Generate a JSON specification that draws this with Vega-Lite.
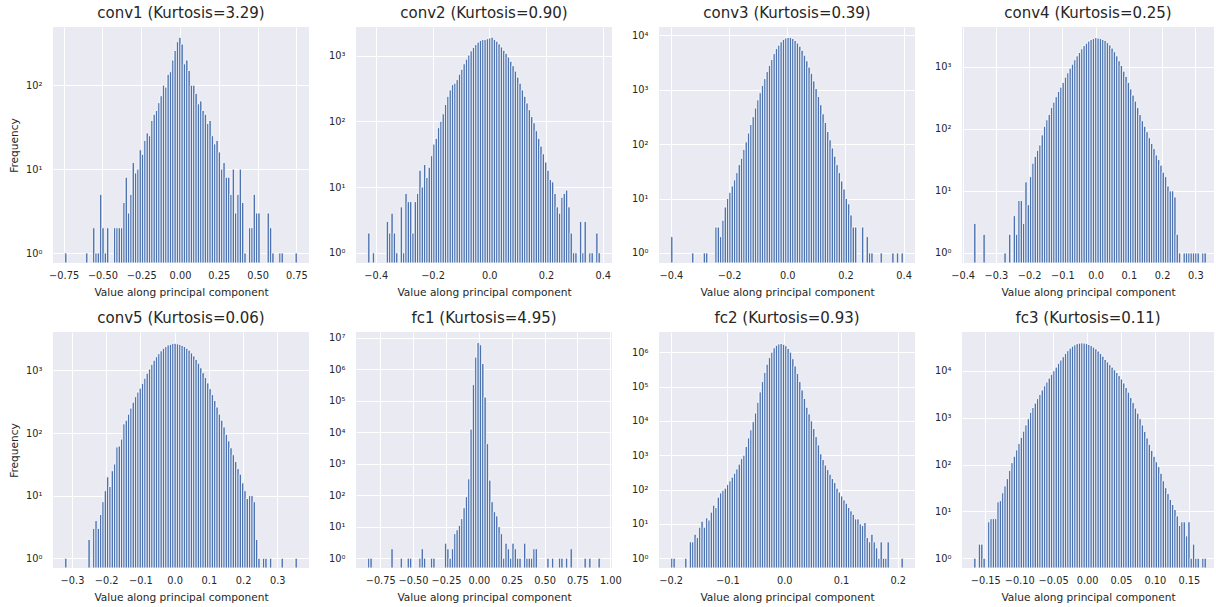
{
"$schema": "https://vega.github.io/schema/vega-lite/v6.json",
"background": "white",
"padding": {"left": 9, "top": 6, "right": 0, "bottom": 0},
"autosize": {"type": "pad"},
"bounds": "flush",
"columns": 4,
"spacing": {"row": 69, "column": 47},
"datasets": {
"conv1": [{"x":-0.736,"n":1},{"x":-0.601,"n":1},{"x":-0.556,"n":2},{"x":-0.541,"n":1},{"x":-0.526,"n":1},{"x":-0.511,"n":5},{"x":-0.496,"n":2},{"x":-0.481,"n":1},{"x":-0.466,"n":2},{"x":-0.421,"n":2},{"x":-0.406,"n":2},{"x":-0.391,"n":2},{"x":-0.376,"n":2},{"x":-0.361,"n":4},{"x":-0.346,"n":8},{"x":-0.331,"n":3},{"x":-0.316,"n":5},{"x":-0.301,"n":12},{"x":-0.286,"n":9},{"x":-0.271,"n":10},{"x":-0.256,"n":17},{"x":-0.241,"n":15},{"x":-0.226,"n":22},{"x":-0.211,"n":27},{"x":-0.196,"n":25},{"x":-0.181,"n":38},{"x":-0.166,"n":45},{"x":-0.151,"n":50},{"x":-0.136,"n":62},{"x":-0.121,"n":75},{"x":-0.106,"n":100},{"x":-0.091,"n":95},{"x":-0.076,"n":135},{"x":-0.061,"n":145},{"x":-0.046,"n":200},{"x":-0.031,"n":260},{"x":-0.016,"n":330},{"x":-0.001,"n":372},{"x":0.014,"n":310},{"x":0.029,"n":180},{"x":0.044,"n":200},{"x":0.059,"n":150},{"x":0.074,"n":100},{"x":0.089,"n":100},{"x":0.104,"n":80},{"x":0.119,"n":60},{"x":0.134,"n":65},{"x":0.149,"n":50},{"x":0.164,"n":45},{"x":0.179,"n":35},{"x":0.194,"n":38},{"x":0.209,"n":25},{"x":0.224,"n":20},{"x":0.239,"n":22},{"x":0.254,"n":16},{"x":0.269,"n":10},{"x":0.284,"n":12},{"x":0.299,"n":8},{"x":0.314,"n":8},{"x":0.329,"n":5},{"x":0.344,"n":10},{"x":0.359,"n":3},{"x":0.374,"n":5},{"x":0.389,"n":10},{"x":0.404,"n":4},{"x":0.419,"n":1},{"x":0.449,"n":2},{"x":0.464,"n":2},{"x":0.479,"n":5},{"x":0.494,"n":3},{"x":0.509,"n":3},{"x":0.569,"n":3},{"x":0.584,"n":2},{"x":0.599,"n":1},{"x":0.644,"n":1},{"x":0.659,"n":1},{"x":0.749,"n":1}],
"conv2": [{"x":-0.4245,"n":2},{"x":-0.4081,"n":1},{"x":-0.3589,"n":3},{"x":-0.3507,"n":2},{"x":-0.3425,"n":4},{"x":-0.3343,"n":2},{"x":-0.3261,"n":1},{"x":-0.3097,"n":5},{"x":-0.3015,"n":1},{"x":-0.2933,"n":8},{"x":-0.2851,"n":6},{"x":-0.2769,"n":6},{"x":-0.2687,"n":2},{"x":-0.2605,"n":6},{"x":-0.2523,"n":8},{"x":-0.2441,"n":18},{"x":-0.2359,"n":10},{"x":-0.2277,"n":22},{"x":-0.2195,"n":14},{"x":-0.2113,"n":20},{"x":-0.2031,"n":30},{"x":-0.1949,"n":45},{"x":-0.1867,"n":55},{"x":-0.1785,"n":80},{"x":-0.1703,"n":100},{"x":-0.1621,"n":130},{"x":-0.1539,"n":180},{"x":-0.1457,"n":240},{"x":-0.1375,"n":300},{"x":-0.1293,"n":360},{"x":-0.1211,"n":380},{"x":-0.1129,"n":430},{"x":-0.1047,"n":520},{"x":-0.0965,"n":620},{"x":-0.0883,"n":750},{"x":-0.0801,"n":880},{"x":-0.0719,"n":1020},{"x":-0.0637,"n":1180},{"x":-0.0555,"n":1330},{"x":-0.0473,"n":1470},{"x":-0.0391,"n":1600},{"x":-0.0309,"n":1700},{"x":-0.0227,"n":1750},{"x":-0.0145,"n":1750},{"x":-0.0063,"n":1800},{"x":0.0019,"n":1850},{"x":0.0101,"n":1900},{"x":0.0183,"n":1750},{"x":0.0265,"n":1650},{"x":0.0347,"n":1500},{"x":0.0429,"n":1350},{"x":0.0511,"n":1200},{"x":0.0593,"n":1080},{"x":0.0675,"n":950},{"x":0.0757,"n":820},{"x":0.0839,"n":700},{"x":0.0921,"n":580},{"x":0.1003,"n":470},{"x":0.1085,"n":380},{"x":0.1167,"n":300},{"x":0.1249,"n":240},{"x":0.1331,"n":190},{"x":0.1413,"n":150},{"x":0.1495,"n":118},{"x":0.1577,"n":95},{"x":0.1659,"n":72},{"x":0.1741,"n":55},{"x":0.1823,"n":42},{"x":0.1905,"n":32},{"x":0.1987,"n":24},{"x":0.2069,"n":18},{"x":0.2151,"n":13},{"x":0.2233,"n":12},{"x":0.2315,"n":8},{"x":0.2397,"n":5},{"x":0.2479,"n":4},{"x":0.2561,"n":7},{"x":0.2643,"n":8},{"x":0.2725,"n":9},{"x":0.2807,"n":5},{"x":0.2889,"n":2},{"x":0.2971,"n":1},{"x":0.3053,"n":1},{"x":0.3217,"n":3},{"x":0.3299,"n":1},{"x":0.3381,"n":3},{"x":0.3545,"n":1},{"x":0.3627,"n":1},{"x":0.3791,"n":2},{"x":0.3873,"n":1}],
"conv3": [{"x":-0.397,"n":2},{"x":-0.325,"n":1},{"x":-0.285,"n":1},{"x":-0.277,"n":1},{"x":-0.245,"n":3},{"x":-0.237,"n":3},{"x":-0.229,"n":2},{"x":-0.221,"n":4},{"x":-0.213,"n":7},{"x":-0.205,"n":10},{"x":-0.197,"n":13},{"x":-0.189,"n":17},{"x":-0.181,"n":22},{"x":-0.173,"n":30},{"x":-0.165,"n":42},{"x":-0.157,"n":55},{"x":-0.149,"n":80},{"x":-0.141,"n":110},{"x":-0.133,"n":160},{"x":-0.125,"n":230},{"x":-0.117,"n":320},{"x":-0.109,"n":460},{"x":-0.101,"n":650},{"x":-0.093,"n":880},{"x":-0.085,"n":1200},{"x":-0.077,"n":1600},{"x":-0.069,"n":2150},{"x":-0.061,"n":2800},{"x":-0.053,"n":3600},{"x":-0.045,"n":4600},{"x":-0.037,"n":5700},{"x":-0.029,"n":6600},{"x":-0.021,"n":7600},{"x":-0.013,"n":8400},{"x":-0.005,"n":8900},{"x":0.003,"n":9100},{"x":0.011,"n":9100},{"x":0.019,"n":8700},{"x":0.027,"n":8000},{"x":0.035,"n":7200},{"x":0.043,"n":6300},{"x":0.051,"n":5300},{"x":0.059,"n":4300},{"x":0.067,"n":3400},{"x":0.075,"n":2600},{"x":0.083,"n":2000},{"x":0.091,"n":1450},{"x":0.099,"n":1050},{"x":0.107,"n":750},{"x":0.115,"n":530},{"x":0.123,"n":360},{"x":0.131,"n":250},{"x":0.139,"n":170},{"x":0.147,"n":120},{"x":0.155,"n":85},{"x":0.163,"n":60},{"x":0.171,"n":42},{"x":0.179,"n":30},{"x":0.187,"n":21},{"x":0.195,"n":15},{"x":0.203,"n":10},{"x":0.211,"n":8},{"x":0.219,"n":5},{"x":0.227,"n":3},{"x":0.235,"n":3},{"x":0.259,"n":3},{"x":0.275,"n":2},{"x":0.283,"n":1},{"x":0.291,"n":1},{"x":0.323,"n":1},{"x":0.363,"n":1},{"x":0.379,"n":1},{"x":0.395,"n":1}],
"conv4": [{"x":-0.3635,"n":3},{"x":-0.3355,"n":2},{"x":-0.2725,"n":1},{"x":-0.2585,"n":2},{"x":-0.2445,"n":4},{"x":-0.2375,"n":2},{"x":-0.2305,"n":7},{"x":-0.2235,"n":7},{"x":-0.2165,"n":3},{"x":-0.2095,"n":14},{"x":-0.2025,"n":6},{"x":-0.1955,"n":17},{"x":-0.1885,"n":28},{"x":-0.1815,"n":36},{"x":-0.1745,"n":45},{"x":-0.1675,"n":55},{"x":-0.1605,"n":80},{"x":-0.1535,"n":110},{"x":-0.1465,"n":140},{"x":-0.1395,"n":170},{"x":-0.1325,"n":220},{"x":-0.1255,"n":270},{"x":-0.1185,"n":330},{"x":-0.1115,"n":400},{"x":-0.1045,"n":470},{"x":-0.0975,"n":560},{"x":-0.0905,"n":680},{"x":-0.0835,"n":800},{"x":-0.0765,"n":950},{"x":-0.0695,"n":1100},{"x":-0.0625,"n":1300},{"x":-0.0555,"n":1500},{"x":-0.0485,"n":1700},{"x":-0.0415,"n":1950},{"x":-0.0345,"n":2200},{"x":-0.0275,"n":2400},{"x":-0.0205,"n":2600},{"x":-0.0135,"n":2750},{"x":-0.0065,"n":2850},{"x":0.0005,"n":2950},{"x":0.0075,"n":2900},{"x":0.0145,"n":2850},{"x":0.0215,"n":2750},{"x":0.0285,"n":2650},{"x":0.0355,"n":2450},{"x":0.0425,"n":2250},{"x":0.0495,"n":2000},{"x":0.0565,"n":1750},{"x":0.0635,"n":1500},{"x":0.0705,"n":1250},{"x":0.0775,"n":1050},{"x":0.0845,"n":850},{"x":0.0915,"n":700},{"x":0.0985,"n":560},{"x":0.1055,"n":440},{"x":0.1125,"n":350},{"x":0.1195,"n":280},{"x":0.1265,"n":220},{"x":0.1335,"n":170},{"x":0.1405,"n":135},{"x":0.1475,"n":110},{"x":0.1545,"n":90},{"x":0.1615,"n":72},{"x":0.1685,"n":58},{"x":0.1755,"n":48},{"x":0.1825,"n":38},{"x":0.1895,"n":32},{"x":0.1965,"n":26},{"x":0.2035,"n":20},{"x":0.2105,"n":17},{"x":0.2175,"n":12},{"x":0.2245,"n":10},{"x":0.2315,"n":10},{"x":0.2385,"n":8},{"x":0.2455,"n":2},{"x":0.2525,"n":1},{"x":0.2665,"n":1},{"x":0.2735,"n":1},{"x":0.2805,"n":1},{"x":0.2875,"n":1},{"x":0.2945,"n":1},{"x":0.3015,"n":1},{"x":0.3085,"n":1},{"x":0.3225,"n":1},{"x":0.3295,"n":1}],
"conv5": [{"x":-0.318,"n":1},{"x":-0.25,"n":2},{"x":-0.2364,"n":3},{"x":-0.2296,"n":4},{"x":-0.2228,"n":3},{"x":-0.216,"n":5},{"x":-0.2092,"n":8},{"x":-0.2024,"n":12},{"x":-0.1956,"n":20},{"x":-0.1888,"n":14},{"x":-0.182,"n":25},{"x":-0.1752,"n":32},{"x":-0.1684,"n":60},{"x":-0.1616,"n":62},{"x":-0.1548,"n":80},{"x":-0.148,"n":140},{"x":-0.1412,"n":160},{"x":-0.1344,"n":200},{"x":-0.1276,"n":250},{"x":-0.1208,"n":310},{"x":-0.114,"n":380},{"x":-0.1072,"n":450},{"x":-0.1004,"n":520},{"x":-0.0936,"n":620},{"x":-0.0868,"n":750},{"x":-0.08,"n":900},{"x":-0.0732,"n":1050},{"x":-0.0664,"n":1250},{"x":-0.0596,"n":1450},{"x":-0.0528,"n":1650},{"x":-0.046,"n":1850},{"x":-0.0392,"n":2050},{"x":-0.0324,"n":2250},{"x":-0.0256,"n":2400},{"x":-0.0188,"n":2550},{"x":-0.012,"n":2600},{"x":-0.0052,"n":2700},{"x":0.0016,"n":2700},{"x":0.0084,"n":2650},{"x":0.0152,"n":2600},{"x":0.022,"n":2500},{"x":0.0288,"n":2400},{"x":0.0356,"n":2250},{"x":0.0424,"n":2100},{"x":0.0492,"n":1900},{"x":0.056,"n":1700},{"x":0.0628,"n":1500},{"x":0.0696,"n":1300},{"x":0.0764,"n":1100},{"x":0.0832,"n":920},{"x":0.09,"n":770},{"x":0.0968,"n":630},{"x":0.1036,"n":510},{"x":0.1104,"n":410},{"x":0.1172,"n":330},{"x":0.124,"n":260},{"x":0.1308,"n":200},{"x":0.1376,"n":160},{"x":0.1444,"n":125},{"x":0.1512,"n":95},{"x":0.158,"n":75},{"x":0.1648,"n":58},{"x":0.1716,"n":45},{"x":0.1784,"n":35},{"x":0.1852,"n":27},{"x":0.192,"n":22},{"x":0.1988,"n":16},{"x":0.2056,"n":12},{"x":0.2124,"n":9},{"x":0.2192,"n":10},{"x":0.226,"n":10},{"x":0.2328,"n":8},{"x":0.2396,"n":2},{"x":0.2464,"n":1},{"x":0.26,"n":1},{"x":0.2668,"n":1},{"x":0.2804,"n":1},{"x":0.3144,"n":1},{"x":0.3552,"n":1}],
"fc1": [{"x":-0.837,"n":1},{"x":-0.8193,"n":1},{"x":-0.66,"n":2},{"x":-0.5892,"n":1},{"x":-0.5361,"n":1},{"x":-0.5184,"n":1},{"x":-0.4476,"n":1},{"x":-0.4299,"n":2},{"x":-0.4122,"n":1},{"x":-0.3591,"n":1},{"x":-0.3414,"n":1},{"x":-0.2529,"n":3},{"x":-0.2352,"n":2},{"x":-0.2175,"n":1},{"x":-0.1998,"n":2},{"x":-0.1821,"n":6},{"x":-0.1644,"n":8},{"x":-0.1467,"n":11},{"x":-0.129,"n":18},{"x":-0.1113,"n":40},{"x":-0.0936,"n":90},{"x":-0.0759,"n":330},{"x":-0.0582,"n":12500},{"x":-0.0405,"n":320000},{"x":-0.0228,"n":2400000},{"x":-0.0051,"n":6900000},{"x":0.0126,"n":5900000},{"x":0.0303,"n":1500000},{"x":0.048,"n":130000},{"x":0.0657,"n":4300},{"x":0.0834,"n":300},{"x":0.1011,"n":62},{"x":0.1188,"n":30},{"x":0.1365,"n":22},{"x":0.1542,"n":10},{"x":0.1719,"n":6},{"x":0.1896,"n":1},{"x":0.2073,"n":3},{"x":0.225,"n":2},{"x":0.2427,"n":1},{"x":0.2604,"n":3},{"x":0.2781,"n":2},{"x":0.2958,"n":1},{"x":0.3135,"n":1},{"x":0.3489,"n":3},{"x":0.3666,"n":1},{"x":0.3843,"n":1},{"x":0.402,"n":1},{"x":0.4197,"n":2},{"x":0.4374,"n":2},{"x":0.5259,"n":1},{"x":0.5613,"n":1},{"x":0.6144,"n":1},{"x":0.6321,"n":1},{"x":0.6675,"n":1},{"x":0.7029,"n":2},{"x":0.8091,"n":1},{"x":0.8445,"n":1},{"x":0.9153,"n":1}],
"fc2": [{"x":-0.198,"n":1},{"x":-0.1939,"n":1},{"x":-0.1734,"n":1},{"x":-0.1652,"n":3},{"x":-0.1611,"n":3},{"x":-0.157,"n":5},{"x":-0.1529,"n":4},{"x":-0.1488,"n":8},{"x":-0.1447,"n":12},{"x":-0.1406,"n":8},{"x":-0.1365,"n":15},{"x":-0.1324,"n":13},{"x":-0.1283,"n":22},{"x":-0.1242,"n":35},{"x":-0.1201,"n":30},{"x":-0.116,"n":60},{"x":-0.1119,"n":80},{"x":-0.1078,"n":95},{"x":-0.1037,"n":110},{"x":-0.0996,"n":140},{"x":-0.0955,"n":180},{"x":-0.0914,"n":230},{"x":-0.0873,"n":300},{"x":-0.0832,"n":400},{"x":-0.0791,"n":550},{"x":-0.075,"n":800},{"x":-0.0709,"n":1000},{"x":-0.0668,"n":1800},{"x":-0.0627,"n":3200},{"x":-0.0586,"n":5500},{"x":-0.0545,"n":9500},{"x":-0.0504,"n":17000},{"x":-0.0463,"n":35000},{"x":-0.0422,"n":70000},{"x":-0.0381,"n":140000},{"x":-0.034,"n":260000},{"x":-0.0299,"n":450000},{"x":-0.0258,"n":700000},{"x":-0.0217,"n":1000000},{"x":-0.0176,"n":1350000},{"x":-0.0135,"n":1600000},{"x":-0.0094,"n":1750000},{"x":-0.0053,"n":1800000},{"x":-0.0012,"n":1700000},{"x":0.0029,"n":1550000},{"x":0.007,"n":1300000},{"x":0.0111,"n":1000000},{"x":0.0152,"n":650000},{"x":0.0193,"n":400000},{"x":0.0234,"n":240000},{"x":0.0275,"n":140000},{"x":0.0316,"n":80000},{"x":0.0357,"n":45000},{"x":0.0398,"n":25000},{"x":0.0439,"n":16000},{"x":0.048,"n":10000},{"x":0.0521,"n":6000},{"x":0.0562,"n":3500},{"x":0.0603,"n":2000},{"x":0.0644,"n":1100},{"x":0.0685,"n":750},{"x":0.0726,"n":520},{"x":0.0767,"n":380},{"x":0.0808,"n":280},{"x":0.0849,"n":210},{"x":0.089,"n":160},{"x":0.0931,"n":110},{"x":0.0972,"n":85},{"x":0.1013,"n":65},{"x":0.1054,"n":50},{"x":0.1095,"n":40},{"x":0.1136,"n":30},{"x":0.1177,"n":24},{"x":0.1218,"n":19},{"x":0.1259,"n":14},{"x":0.13,"n":14},{"x":0.1341,"n":10},{"x":0.1382,"n":9},{"x":0.1423,"n":11},{"x":0.1464,"n":4},{"x":0.1505,"n":3},{"x":0.1546,"n":5},{"x":0.1587,"n":3},{"x":0.1628,"n":2},{"x":0.1669,"n":1},{"x":0.171,"n":3},{"x":0.1751,"n":1},{"x":0.1792,"n":1},{"x":0.1833,"n":3},{"x":0.2079,"n":1}],
"fc3": [{"x":-0.1654,"n":1},{"x":-0.1585,"n":2},{"x":-0.1551,"n":2},{"x":-0.1517,"n":1},{"x":-0.1448,"n":6},{"x":-0.1414,"n":7},{"x":-0.138,"n":7},{"x":-0.1345,"n":7},{"x":-0.1311,"n":16},{"x":-0.1277,"n":17},{"x":-0.1242,"n":25},{"x":-0.1208,"n":35},{"x":-0.1174,"n":50},{"x":-0.1139,"n":75},{"x":-0.1105,"n":110},{"x":-0.1071,"n":150},{"x":-0.1037,"n":205},{"x":-0.1002,"n":280},{"x":-0.0968,"n":380},{"x":-0.0934,"n":515},{"x":-0.0899,"n":700},{"x":-0.0865,"n":950},{"x":-0.0831,"n":1300},{"x":-0.0796,"n":1650},{"x":-0.0762,"n":2050},{"x":-0.0728,"n":2550},{"x":-0.0694,"n":3150},{"x":-0.0659,"n":3900},{"x":-0.0625,"n":4800},{"x":-0.0591,"n":5800},{"x":-0.0556,"n":7000},{"x":-0.0522,"n":8400},{"x":-0.0488,"n":10000},{"x":-0.0453,"n":12000},{"x":-0.0419,"n":14500},{"x":-0.0385,"n":17000},{"x":-0.0351,"n":20000},{"x":-0.0316,"n":23500},{"x":-0.0282,"n":27000},{"x":-0.0248,"n":30500},{"x":-0.0213,"n":33500},{"x":-0.0179,"n":36000},{"x":-0.0145,"n":38000},{"x":-0.011,"n":39000},{"x":-0.0076,"n":39500},{"x":-0.0042,"n":39000},{"x":-0.0008,"n":38000},{"x":0.0027,"n":36500},{"x":0.0061,"n":34500},{"x":0.0095,"n":32000},{"x":0.013,"n":29500},{"x":0.0164,"n":26500},{"x":0.0198,"n":23500},{"x":0.0233,"n":20500},{"x":0.0267,"n":17500},{"x":0.0301,"n":15500},{"x":0.0335,"n":13500},{"x":0.037,"n":12000},{"x":0.0404,"n":10500},{"x":0.0438,"n":9200},{"x":0.0473,"n":7900},{"x":0.0507,"n":6700},{"x":0.0541,"n":5500},{"x":0.0576,"n":4400},{"x":0.061,"n":3500},{"x":0.0644,"n":2700},{"x":0.0678,"n":2100},{"x":0.0713,"n":1600},{"x":0.0747,"n":1250},{"x":0.0781,"n":950},{"x":0.0816,"n":700},{"x":0.085,"n":510},{"x":0.0884,"n":370},{"x":0.0919,"n":270},{"x":0.0953,"n":200},{"x":0.0987,"n":150},{"x":0.1021,"n":115},{"x":0.1056,"n":90},{"x":0.109,"n":65},{"x":0.1124,"n":45},{"x":0.1159,"n":32},{"x":0.1193,"n":24},{"x":0.1227,"n":18},{"x":0.1262,"n":14},{"x":0.1296,"n":11},{"x":0.133,"n":8},{"x":0.1364,"n":5},{"x":0.1399,"n":6},{"x":0.1433,"n":6},{"x":0.1467,"n":3},{"x":0.1502,"n":6},{"x":0.1536,"n":1},{"x":0.157,"n":2},{"x":0.1605,"n":1},{"x":0.1639,"n":1},{"x":0.1707,"n":1},{"x":0.1742,"n":1}]
},
"concat": [
{"data":{"name":"conv1"},"transform":[{"bin":{"extent":[-0.7435,0.7565],"step":0.015,"nice":false},"field":"x","as":["b0","b1"]}],"width":256,"height":236,"title":"conv1 (Kurtosis=3.29)","mark":{"type":"bar","fill":"#4C72B0","stroke":"#FFFFFF","strokeWidth":0.8},
"encoding":{"x":{"field":"b0","type":"quantitative","scale":{"domain":[-0.8185,0.8315],"nice":false,"zero":false},"axis":{"values":[-0.75,-0.5,-0.25,0,0.25,0.5,0.75],"format":".2f","title":"Value along principal component"}},"x2":{"field":"b1"},
"y":{"field":"n","type":"quantitative","scale":{"type":"log","domain":[0.76,495],"nice":false,"clamp":true},"axis":{"values":[1,10,100],"labelExpr":"datum.value == 1 ? '10⁰' : datum.value == 10 ? '10¹' : datum.value == 100 ? '10²' : datum.value == 1000 ? '10³' : datum.value == 10000 ? '10⁴' : datum.value == 100000 ? '10⁵' : datum.value == 1000000 ? '10⁶' : '10⁷'","title":"Frequency"}},"y2":{"datum":0.01}}},
{"data":{"name":"conv2"},"transform":[{"bin":{"extent":[-0.4286,0.3914],"step":0.0082,"nice":false},"field":"x","as":["b0","b1"]}],"width":256,"height":236,"title":"conv2 (Kurtosis=0.90)","mark":{"type":"bar","fill":"#4C72B0","stroke":"#FFFFFF","strokeWidth":0.8},
"encoding":{"x":{"field":"b0","type":"quantitative","scale":{"domain":[-0.4696,0.4324],"nice":false,"zero":false},"axis":{"values":[-0.4,-0.2,0,0.2,0.4],"format":".1f","title":"Value along principal component"}},"x2":{"field":"b1"},
"y":{"field":"n","type":"quantitative","scale":{"type":"log","domain":[0.7,2720],"nice":false,"clamp":true},"axis":{"values":[1,10,100,1000],"labelExpr":"datum.value == 1 ? '10⁰' : datum.value == 10 ? '10¹' : datum.value == 100 ? '10²' : datum.value == 1000 ? '10³' : datum.value == 10000 ? '10⁴' : datum.value == 100000 ? '10⁵' : datum.value == 1000000 ? '10⁶' : '10⁷'","title":null}},"y2":{"datum":0.01}}},
{"data":{"name":"conv3"},"transform":[{"bin":{"extent":[-0.401,0.399],"step":0.008,"nice":false},"field":"x","as":["b0","b1"]}],"width":256,"height":236,"title":"conv3 (Kurtosis=0.39)","mark":{"type":"bar","fill":"#4C72B0","stroke":"#FFFFFF","strokeWidth":0.8},
"encoding":{"x":{"field":"b0","type":"quantitative","scale":{"domain":[-0.441,0.439],"nice":false,"zero":false},"axis":{"values":[-0.4,-0.2,0,0.2,0.4],"format":".1f","title":"Value along principal component"}},"x2":{"field":"b1"},
"y":{"field":"n","type":"quantitative","scale":{"type":"log","domain":[0.655,14200],"nice":false,"clamp":true},"axis":{"values":[1,10,100,1000,10000],"labelExpr":"datum.value == 1 ? '10⁰' : datum.value == 10 ? '10¹' : datum.value == 100 ? '10²' : datum.value == 1000 ? '10³' : datum.value == 10000 ? '10⁴' : datum.value == 100000 ? '10⁵' : datum.value == 1000000 ? '10⁶' : '10⁷'","title":null}},"y2":{"datum":0.01}}},
{"data":{"name":"conv4"},"transform":[{"bin":{"extent":[-0.367,0.333],"step":0.007,"nice":false},"field":"x","as":["b0","b1"]}],"width":252,"height":236,"title":"conv4 (Kurtosis=0.25)","mark":{"type":"bar","fill":"#4C72B0","stroke":"#FFFFFF","strokeWidth":0.8},
"encoding":{"x":{"field":"b0","type":"quantitative","scale":{"domain":[-0.402,0.356],"nice":false,"zero":false},"axis":{"values":[-0.4,-0.3,-0.2,-0.1,0,0.1,0.2,0.3],"format":".1f","title":"Value along principal component"}},"x2":{"field":"b1"},
"y":{"field":"n","type":"quantitative","scale":{"type":"log","domain":[0.69,4380],"nice":false,"clamp":true},"axis":{"values":[1,10,100,1000],"labelExpr":"datum.value == 1 ? '10⁰' : datum.value == 10 ? '10¹' : datum.value == 100 ? '10²' : datum.value == 1000 ? '10³' : datum.value == 10000 ? '10⁴' : datum.value == 100000 ? '10⁵' : datum.value == 1000000 ? '10⁶' : '10⁷'","title":null}},"y2":{"datum":0.01}}},
{"data":{"name":"conv5"},"transform":[{"bin":{"extent":[-0.3214,0.3586],"step":0.0068,"nice":false},"field":"x","as":["b0","b1"]}],"width":256,"height":236,"title":"conv5 (Kurtosis=0.06)","mark":{"type":"bar","fill":"#4C72B0","stroke":"#FFFFFF","strokeWidth":0.8},
"encoding":{"x":{"field":"b0","type":"quantitative","scale":{"domain":[-0.3554,0.3926],"nice":false,"zero":false},"axis":{"values":[-0.3,-0.2,-0.1,0,0.1,0.2,0.3],"format":".1f","title":"Value along principal component"}},"x2":{"field":"b1"},
"y":{"field":"n","type":"quantitative","scale":{"type":"log","domain":[0.7,4100],"nice":false,"clamp":true},"axis":{"values":[1,10,100,1000],"labelExpr":"datum.value == 1 ? '10⁰' : datum.value == 10 ? '10¹' : datum.value == 100 ? '10²' : datum.value == 1000 ? '10³' : datum.value == 10000 ? '10⁴' : datum.value == 100000 ? '10⁵' : datum.value == 1000000 ? '10⁶' : '10⁷'","title":"Frequency"}},"y2":{"datum":0.01}}},
{"data":{"name":"fc1"},"transform":[{"bin":{"extent":[-0.84585,0.92415],"step":0.0177,"nice":false},"field":"x","as":["b0","b1"]}],"width":256,"height":236,"title":"fc1 (Kurtosis=4.95)","mark":{"type":"bar","fill":"#4C72B0","stroke":"#FFFFFF","strokeWidth":0.8},
"encoding":{"x":{"field":"b0","type":"quantitative","scale":{"domain":[-0.934,1.013],"nice":false,"zero":false},"axis":{"values":[-0.75,-0.5,-0.25,0,0.25,0.5,0.75,1],"format":".2f","title":"Value along principal component"}},"x2":{"field":"b1"},
"y":{"field":"n","type":"quantitative","scale":{"type":"log","domain":[0.49,15000000],"nice":false,"clamp":true},"axis":{"values":[1,10,100,1000,10000,100000,1000000,10000000],"labelExpr":"datum.value == 1 ? '10⁰' : datum.value == 10 ? '10¹' : datum.value == 100 ? '10²' : datum.value == 1000 ? '10³' : datum.value == 10000 ? '10⁴' : datum.value == 100000 ? '10⁵' : datum.value == 1000000 ? '10⁶' : '10⁷'","title":null}},"y2":{"datum":0.01}}},
{"data":{"name":"fc2"},"transform":[{"bin":{"extent":[-0.20005,0.20995],"step":0.0041,"nice":false},"field":"x","as":["b0","b1"]}],"width":256,"height":236,"title":"fc2 (Kurtosis=0.93)","mark":{"type":"bar","fill":"#4C72B0","stroke":"#FFFFFF","strokeWidth":0.8},
"encoding":{"x":{"field":"b0","type":"quantitative","scale":{"domain":[-0.2206,0.2305],"nice":false,"zero":false},"axis":{"values":[-0.2,-0.1,0,0.1,0.2],"format":".1f","title":"Value along principal component"}},"x2":{"field":"b1"},
"y":{"field":"n","type":"quantitative","scale":{"type":"log","domain":[0.52,3900000],"nice":false,"clamp":true},"axis":{"values":[1,10,100,1000,10000,100000,1000000],"labelExpr":"datum.value == 1 ? '10⁰' : datum.value == 10 ? '10¹' : datum.value == 100 ? '10²' : datum.value == 1000 ? '10³' : datum.value == 10000 ? '10⁴' : datum.value == 100000 ? '10⁵' : datum.value == 1000000 ? '10⁶' : '10⁷'","title":null}},"y2":{"datum":0.01}}},
{"data":{"name":"fc3"},"transform":[{"bin":{"extent":[-0.167115,0.175885],"step":0.00343,"nice":false},"field":"x","as":["b0","b1"]}],"width":252,"height":236,"title":"fc3 (Kurtosis=0.11)","mark":{"type":"bar","fill":"#4C72B0","stroke":"#FFFFFF","strokeWidth":0.8},
"encoding":{"x":{"field":"b0","type":"quantitative","scale":{"domain":[-0.1843,0.1871],"nice":false,"zero":false},"axis":{"values":[-0.15,-0.1,-0.05,0,0.05,0.1,0.15],"format":".2f","title":"Value along principal component"}},"x2":{"field":"b1"},
"y":{"field":"n","type":"quantitative","scale":{"type":"log","domain":[0.62,67500],"nice":false,"clamp":true},"axis":{"values":[1,10,100,1000,10000],"labelExpr":"datum.value == 1 ? '10⁰' : datum.value == 10 ? '10¹' : datum.value == 100 ? '10²' : datum.value == 1000 ? '10³' : datum.value == 10000 ? '10⁴' : datum.value == 100000 ? '10⁵' : datum.value == 1000000 ? '10⁶' : '10⁷'","title":null}},"y2":{"datum":0.01}}}
],
"config": {
"view": {"fill": "#EAEAF2", "stroke": null},
"axis": {"domain": false, "ticks": false, "grid": true, "gridColor": "#FFFFFF", "gridWidth": 1, "gridOpacity": 1, "labelFont": "DejaVu Sans", "labelFontSize": 9.8, "labelColor": "#262626", "labelPadding": 7, "labelOverlap": false, "titleFont": "DejaVu Sans", "titleFontSize": 10.6, "titleFontWeight": "normal", "titleColor": "#262626"},
"axisX": {"titlePadding": 8, "labelFlush": false},
"axisY": {"labelPadding": 11, "titlePadding": 6},
"title": {"font": "DejaVu Sans", "fontSize": 15, "fontWeight": "normal", "color": "#262626", "offset": 6, "anchor": "middle"}
}
}
